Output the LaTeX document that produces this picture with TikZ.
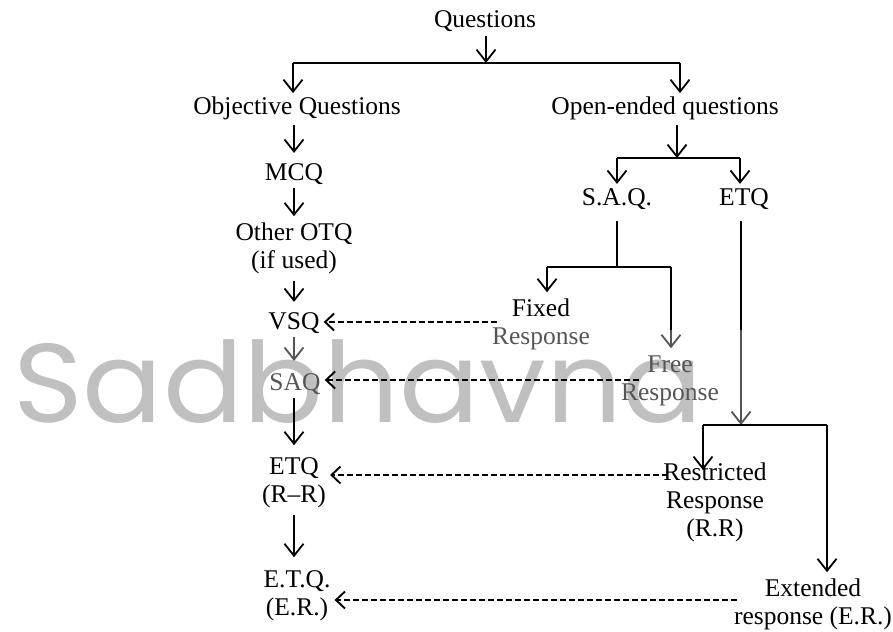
\documentclass[tikz,border=0pt]{standalone}
\usepackage{fontspec}
\setmainfont{Liberation Serif}
\newfontfamily\wmfont{Poppins}
\usetikzlibrary{arrows.meta}
\definecolor{softgray}{HTML}{555555}
\definecolor{wmgray}{HTML}{C0C0C0}
\newcommand{\mlc}[1]{\begin{tabular}[t]{@{}c@{}}#1\end{tabular}}
\tikzset{
  lbl/.style={font=\fontsize{25.5}{28}\selectfont, inner sep=4pt, text=black, anchor=base},
  glbl/.style={lbl, text=softgray},
  wm/.style={font=\wmfont\fontsize{112}{120}\selectfont, text=wmgray, inner sep=0pt, anchor=base west, xscale=1.06},
  ln/.style={draw=black, line width=1.4pt},
  arr/.style={ln, -{Straight Barb[length=12pt,width=19pt,line width=1.8pt]}},
  garr/.style={arr, draw=softgray},
  darr/.style={draw=black, line width=1.6pt, dash pattern=on 6pt off 3pt,
    -{Straight Barb[length=9pt,width=17pt,line width=1.9pt]}}
}
\begin{document}
\begin{tikzpicture}[x=1pt,y=-1pt]
\useasboundingbox (0,0) rectangle (893,631);
% watermark
\node[wm] (wmark) at (13,422) {Sadbhavna};
% left column
\node[lbl] (q) at (485,28) {Questions};
\node[lbl] (obj) at (297,115) {Objective Questions};
\node[lbl] (open) at (665,115) {Open-ended questions};
\node[lbl] (mcq) at (294,180) {MCQ};
\node[lbl] (otq) at (294,240) {\mlc{Other OTQ\\(if used)}};
\node[lbl] (vsq) at (294,329) {VSQ};
\node[glbl] (saq) at (295,390) {SAQ};
\node[lbl] (etql) at (294,474) {\mlc{ETQ\\(R--R)}};
\node[lbl] (etqe) at (297,587) {\mlc{E.T.Q.\\(E.R.)}};
% right side
\node[lbl] (saqr) at (617,205) {S.A.Q.};
\node[lbl] (etqr) at (744,205) {ETQ};
\node[lbl] (fixed) at (541,316) {\mlc{Fixed\\\textcolor{softgray}{Response}}};
\node[glbl] (free) at (670,372) {\mlc{Free\\Response}};
\node[lbl] (restr) at (715,480) {\mlc{Restricted\\Response\\(R.R)}};
\node[lbl] (ext) at (813,596) {\mlc{Extended\\response (E.R.)}};
% junction coordinates
\coordinate (j1) at (486,63);
\coordinate (j1l) at (293,63);
\coordinate (j1r) at (680,63);
\coordinate (j2) at (677,158);
\coordinate (j2l) at (617,158);
\coordinate (j2r) at (740,158);
\coordinate (j3) at (617,267);
\coordinate (j3l) at (547,267);
\coordinate (j3r) at (671,267);
\coordinate (f1) at (671,330);
\coordinate (e1) at (741,330);
\coordinate (j4) at (741,425);
\coordinate (j4l) at (703,425);
\coordinate (j4r) at (827,425);
\coordinate (rtip) at (703,470);
% dashed line levels
\coordinate (d1) at (0,322);
\coordinate (d2) at (0,380);
\coordinate (d3) at (0,475);
\coordinate (d4) at (0,600);
% top
\draw[arr] (j1 |- q.south) -- (j1);
\draw[ln] (j1l) -- (j1r);
\draw[arr] (j1l) -- (j1l |- obj.north);
\draw[arr] (j1r) -- (j1r |- open.north);
% objective chain
\draw[arr] (mcq.north |- obj.south) -- ([yshift=6pt]mcq.north);
\draw[arr] (mcq.south) -- (otq.north);
\draw[arr] (otq.south) -- ([yshift=6pt]vsq.north);
\draw[garr] (vsq.south) -- ([yshift=8pt]vsq.north |- saq.north);
\draw[arr] (vsq.south |- saq.south) -- ([yshift=5pt]etql.north);
\draw[arr] (etql.south) -- ([yshift=6pt]etqe.north -| etql.south);
% open-ended
\draw[arr] (j2 |- open.south) -- (j2);
\draw[ln] (j2l) -- (j2r);
\draw[arr] (j2l) -- (j2l |- saqr.north);
\draw[arr] (j2r) -- (j2r |- etqr.north);
% S.A.Q. branch
\draw[ln] ([yshift=-8pt]saqr.south) -- (j3);
\draw[ln] (j3l) -- (j3r);
\draw[arr] (j3l) -- (j3l |- fixed.north);
\draw[ln] (j3r) -- (f1);
\draw[garr] (f1) -- (f1 |- free.north);
% ETQ branch
\draw[ln] (e1 |- etqr.south) ++(0,8) -- (e1);
\draw[garr] (e1) -- (j4);
\draw[ln] (j4l) -- (j4r);
\draw[arr] (j4l) -- (rtip);
\draw[arr] (j4r) -- (j4r |- ext.north);
% dashed links
\draw[darr, shorten <=-9pt] (fixed.west |- d1) -- (vsq.east |- d1);
\draw[darr, shorten <=-22pt] (free.west |- d2) -- (saq.east |- d2);
\draw[darr, shorten <=-9pt] (restr.west |- d3) -- (etql.east |- d3);
\draw[darr, shorten <=-7pt] (ext.west |- d4) -- (etqe.east |- d4);
\end{tikzpicture}
\end{document}
